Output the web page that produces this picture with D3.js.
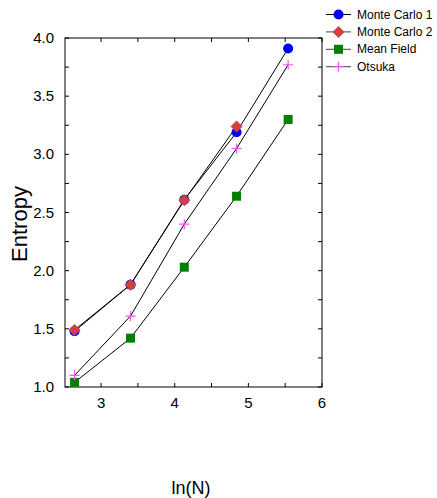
<!DOCTYPE html>
<html>
<head>
<meta charset="utf-8">
<script src="https://cdn.jsdelivr.net/npm/d3@7"></script>
<style>
  body { margin: 0; background: #fff; }
  text { font-family: "Liberation Sans", Arial, Helvetica, sans-serif; }
</style>
</head>
<body>
<svg id="chart"></svg>
<script>
var width = 437;
var height = 498;

var margin = {top: 38, left: 65, right: 115, bottom: 111};

// ln(N) values
var lnN = [2.64, 3.40, 4.13, 4.84, 5.54];

var monteCarlo1 = [1.48, 1.88, 2.61, 3.19, 3.91];
var monteCarlo2 = [1.49, 1.88, 2.605, 3.24];
var meanField = [1.04, 1.42, 2.03, 2.64, 3.30];
var otsuka = [1.10, 1.61, 2.40, 3.05, 3.77];

var xTicks = [3, 4, 5, 6];
var yTicks = [1.0, 1.5, 2.0, 2.5, 3.0, 3.5, 4.0];

var series = [
  {name: "Monte Carlo 1", values: monteCarlo1, shape: "circle", color: "#0000ff"},
  {name: "Monte Carlo 2", values: monteCarlo2, shape: "diamond", color: "#d04040"},
  {name: "Mean Field", values: meanField, shape: "square", color: "#008000"},
  {name: "Otsuka", values: otsuka, shape: "plus", color: "#ee55ee"}
];

var svg = d3.select("#chart").attr("width", width).attr("height", height);

var xScale = d3.scaleLinear()
  .domain([2.51, 6])
  .range([margin.left, width - margin.right]);

var yScale = d3.scaleLinear()
  .domain([1, 4])
  .range([height - margin.bottom, margin.top]);

var x0 = margin.left, x1 = width - margin.right;
var y0 = height - margin.bottom, y1 = margin.top;

// frame
svg.append("rect")
  .attr("x", x0).attr("y", y1)
  .attr("width", x1 - x0).attr("height", y0 - y1)
  .attr("fill", "none").attr("stroke", "#000").attr("stroke-width", 1);

var tickLen = 4;
var xMinor = d3.range(3, 6.01, 0.5);
var yMinor = d3.range(1, 4.01, 0.25);

// inward ticks on all four sides
svg.append("g").selectAll("line").data(xMinor).enter().append("line")
  .attr("x1", function(d) {return xScale(d);})
  .attr("x2", function(d) {return xScale(d);})
  .attr("y1", y0).attr("y2", y0 - tickLen)
  .attr("stroke", "#000");
svg.append("g").selectAll("line").data(xMinor).enter().append("line")
  .attr("x1", function(d) {return xScale(d);})
  .attr("x2", function(d) {return xScale(d);})
  .attr("y1", y1).attr("y2", y1 + tickLen)
  .attr("stroke", "#000");
svg.append("g").selectAll("line").data(yMinor).enter().append("line")
  .attr("y1", function(d) {return yScale(d);})
  .attr("y2", function(d) {return yScale(d);})
  .attr("x1", x0).attr("x2", x0 + tickLen)
  .attr("stroke", "#000");
svg.append("g").selectAll("line").data(yMinor).enter().append("line")
  .attr("y1", function(d) {return yScale(d);})
  .attr("y2", function(d) {return yScale(d);})
  .attr("x1", x1).attr("x2", x1 - tickLen)
  .attr("stroke", "#000");

// tick labels
svg.append("g").selectAll("text").data(xTicks).enter().append("text")
  .attr("x", function(d) {return xScale(d);})
  .attr("y", y0 + 21)
  .attr("text-anchor", "middle")
  .attr("font-size", 15)
  .text(function(d) {return d;});
svg.append("g").selectAll("text").data(yTicks).enter().append("text")
  .attr("x", x0 - 11)
  .attr("y", function(d) {return yScale(d) + 5;})
  .attr("text-anchor", "end")
  .attr("font-size", 15)
  .text(function(d) {return d.toFixed(1);});

// axis titles
svg.append("text")
  .attr("transform", "translate(27,224) rotate(-90)")
  .attr("text-anchor", "middle")
  .attr("font-size", 22)
  .text("Entropy");
svg.append("text")
  .attr("x", 191).attr("y", 494)
  .attr("text-anchor", "middle")
  .attr("font-size", 18)
  .text("ln(N)");

function drawMarker(g, shape, color, cx, cy) {
  if (shape === "circle") {
    g.append("circle").attr("cx", cx).attr("cy", cy).attr("r", 5).attr("fill", color);
  } else if (shape === "diamond") {
    g.append("path")
      .attr("d", "M" + cx + "," + (cy - 6) + "L" + (cx + 6) + "," + cy + "L" + cx + "," + (cy + 6) + "L" + (cx - 6) + "," + cy + "Z")
      .attr("fill", color);
  } else if (shape === "square") {
    g.append("rect").attr("x", cx - 4.5).attr("y", cy - 4.5).attr("width", 9).attr("height", 9).attr("fill", color);
  } else {
    g.append("path")
      .attr("d", "M" + (cx - 5) + "," + cy + "H" + (cx + 5) + "M" + cx + "," + (cy - 5) + "V" + (cy + 5))
      .attr("stroke", color).attr("stroke-width", 1.2).attr("fill", "none");
  }
}

var line = d3.line()
  .x(function(d, i) {return xScale(lnN[i]);})
  .y(function(d) {return yScale(d);});

series.forEach(function(s) {
  svg.append("path")
    .attr("d", line(s.values))
    .attr("fill", "none")
    .attr("stroke", "#000")
    .attr("stroke-width", 1);
});

series.forEach(function(s) {
  var g = svg.append("g");
  s.values.forEach(function(v, i) {
    drawMarker(g, s.shape, s.color, xScale(lnN[i]), yScale(v));
  });
});

// legend
var legend = svg.append("g");
series.forEach(function(s, i) {
  var ly = 14.5 + i * 17.4;
  legend.append("line")
    .attr("x1", 326).attr("x2", 351)
    .attr("y1", ly).attr("y2", ly)
    .attr("stroke", i === 0 ? "#000" : "#444").attr("stroke-width", 1);
  drawMarker(legend, s.shape, s.color, 338.5, ly);
  legend.append("text")
    .attr("x", 357).attr("y", ly + 4)
    .attr("font-size", 12)
    .text(s.name);
});
</script>
</body>
</html>
